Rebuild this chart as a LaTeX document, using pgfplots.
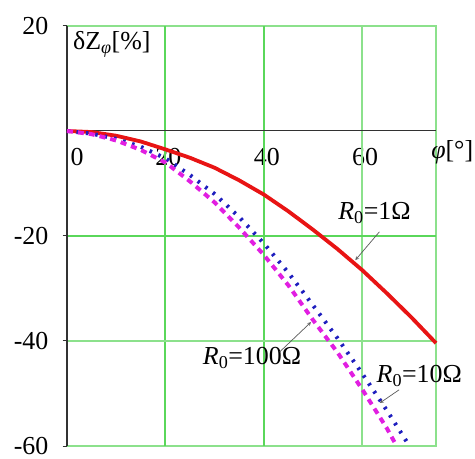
\documentclass[border=0pt]{standalone}
\usepackage{pgfplots}
\pgfplotsset{compat=1.18}
\usepackage{pgfplotstable}
\usepackage{fontspec}
\setmainfont{Liberation Serif}

\definecolor{gridgreen}{RGB}{90,215,90}
\definecolor{gridlight}{RGB}{140,225,140}
\definecolor{curvered}{RGB}{232,20,20}
\definecolor{curveblue}{RGB}{30,30,190}
\definecolor{curvemag}{RGB}{225,30,225}
\definecolor{arrowgray}{RGB}{90,90,90}
\definecolor{axisdark}{RGB}{50,50,50}

% phi [deg]  dZ [%]
\pgfplotstableread{
x y
0 0
5 -0.2
10 -0.9
15 -2.0
20 -3.5
25 -5.1
30 -7.0
35 -9.4
40 -12.1
45 -15.3
50 -18.8
55 -22.5
60 -26.5
65 -30.9
70 -35.5
75 -40.4
}\rone

\pgfplotstableread{
x y
0 0
5 -0.5
10 -1.5
15 -3.0
20 -5.2
25 -8.4
30 -12.0
35 -16.4
40 -21.4
45 -27.0
50 -33.2
55 -39.5
60 -46.2
65 -53.2
69.6 -60
}\rten

\pgfplotstableread{
x y
0 0
5 -0.6
10 -1.8
15 -3.6
20 -6.0
25 -9.6
30 -13.6
35 -18.4
40 -23.6
45 -29.4
50 -36.0
55 -42.2
60 -49.2
65 -56.6
67 -60
}\rhundred

\begin{document}
\begin{tikzpicture}
\begin{axis}[
  at={(0,0)}, anchor=south west,
  scale only axis,
  width=369bp, height=420bp,
  xmin=0, xmax=75, ymin=-60, ymax=20,
  axis x line=middle, axis y line=middle,
  axis line style={draw=none},
  xtick={0,20,40,60},
  xticklabels={\hspace*{14bp}0,20,40,60},
  ytick={-60,-40,-20,20},
  hide obscured x ticks=false, hide obscured y ticks=false,
  xtick style={draw=none},
  ytick style={axisdark, line width=1bp},
  tick align=center,
  major tick length=9bp,
  font=\fontsize{26}{30}\selectfont,
  /pgf/number format/assume math mode=true,
  xticklabel style={anchor=north, inner sep=0pt, yshift=-13bp, xshift=3bp},
  yticklabel style={anchor=east, inner sep=0pt, xshift=-14bp},
  clip=false,
]
% grid and frame
\draw[gridlight, line width=1.8bp] (axis cs:0,20) -- (axis cs:75,20) -- (axis cs:75,-60) -- (axis cs:0,-60);
\draw[gridgreen, line width=2.2bp] (axis cs:20,-60) -- (axis cs:20,20);
\draw[gridgreen, line width=2.4bp] (axis cs:40,-60) -- (axis cs:40,20);
\draw[gridlight, line width=1.8bp] (axis cs:60,-60) -- (axis cs:60,20);
\draw[gridgreen, line width=2.4bp] (axis cs:0,-20) -- (axis cs:75,-20);
\draw[gridlight, line width=1.8bp] (axis cs:0,-40) -- (axis cs:75,-40);
% zero lines and small ticks on the phi axis
\draw[axisdark, line width=1bp] (axis cs:0,0) -- (axis cs:75,0);
\draw[axisdark, line width=1.4bp] (axis cs:0,-60) -- (axis cs:0,20);
\draw[axisdark, line width=1bp] (axis cs:20,0) ++(0,-4.5bp) -- ++(0,9bp);
\draw[axisdark, line width=1bp] (axis cs:40,0) ++(0,-4.5bp) -- ++(0,9bp);
\draw[axisdark, line width=1bp] (axis cs:60,0) ++(0,-4.5bp) -- ++(0,9bp);

\addplot[curvered, line width=3.8bp, line join=round] table[x=x, y=y] {\rone};
\addplot[curveblue, line width=4bp, dash pattern=on 2.5bp off 7bp] table[x=x, y=y] {\rten};
\addplot[curvemag, line width=4bp, dash pattern=on 6bp off 5bp] table[x=x, y=y] {\rhundred};

% axis titles
\node[anchor=west, inner sep=0pt] at (axis cs:1.2,16.5) {δZ\textsubscript{\textit{φ}}[\%]};
\node[anchor=west, inner sep=0pt] at (axis cs:74,-4) {\textit{φ}[°]};

% curve labels
\node[inner sep=0pt] at (axis cs:62.5,-15.6) {\textit{R}\textsubscript{0}=1Ω};
\draw[-stealth, arrowgray, line width=0.7bp] (axis cs:63.5,-19.2) -- (axis cs:58.6,-24.6);
\node[inner sep=0pt] at (axis cs:37.6,-43.2) {\textit{R}\textsubscript{0}=100Ω};
\draw[-stealth, arrowgray, line width=0.7bp] (axis cs:43.2,-42.1) -- (axis cs:49.6,-36.4);
\node[inner sep=0pt] at (axis cs:71.6,-46.7) {\textit{R}\textsubscript{0}=10Ω};
\draw[-stealth, arrowgray, line width=0.7bp] (axis cs:67.5,-49.3) -- (axis cs:63.6,-51.8);
\end{axis}
\pgfresetboundingbox
\path (-67bp,-13bp) rectangle (408bp,446bp);
\end{tikzpicture}
\end{document}
